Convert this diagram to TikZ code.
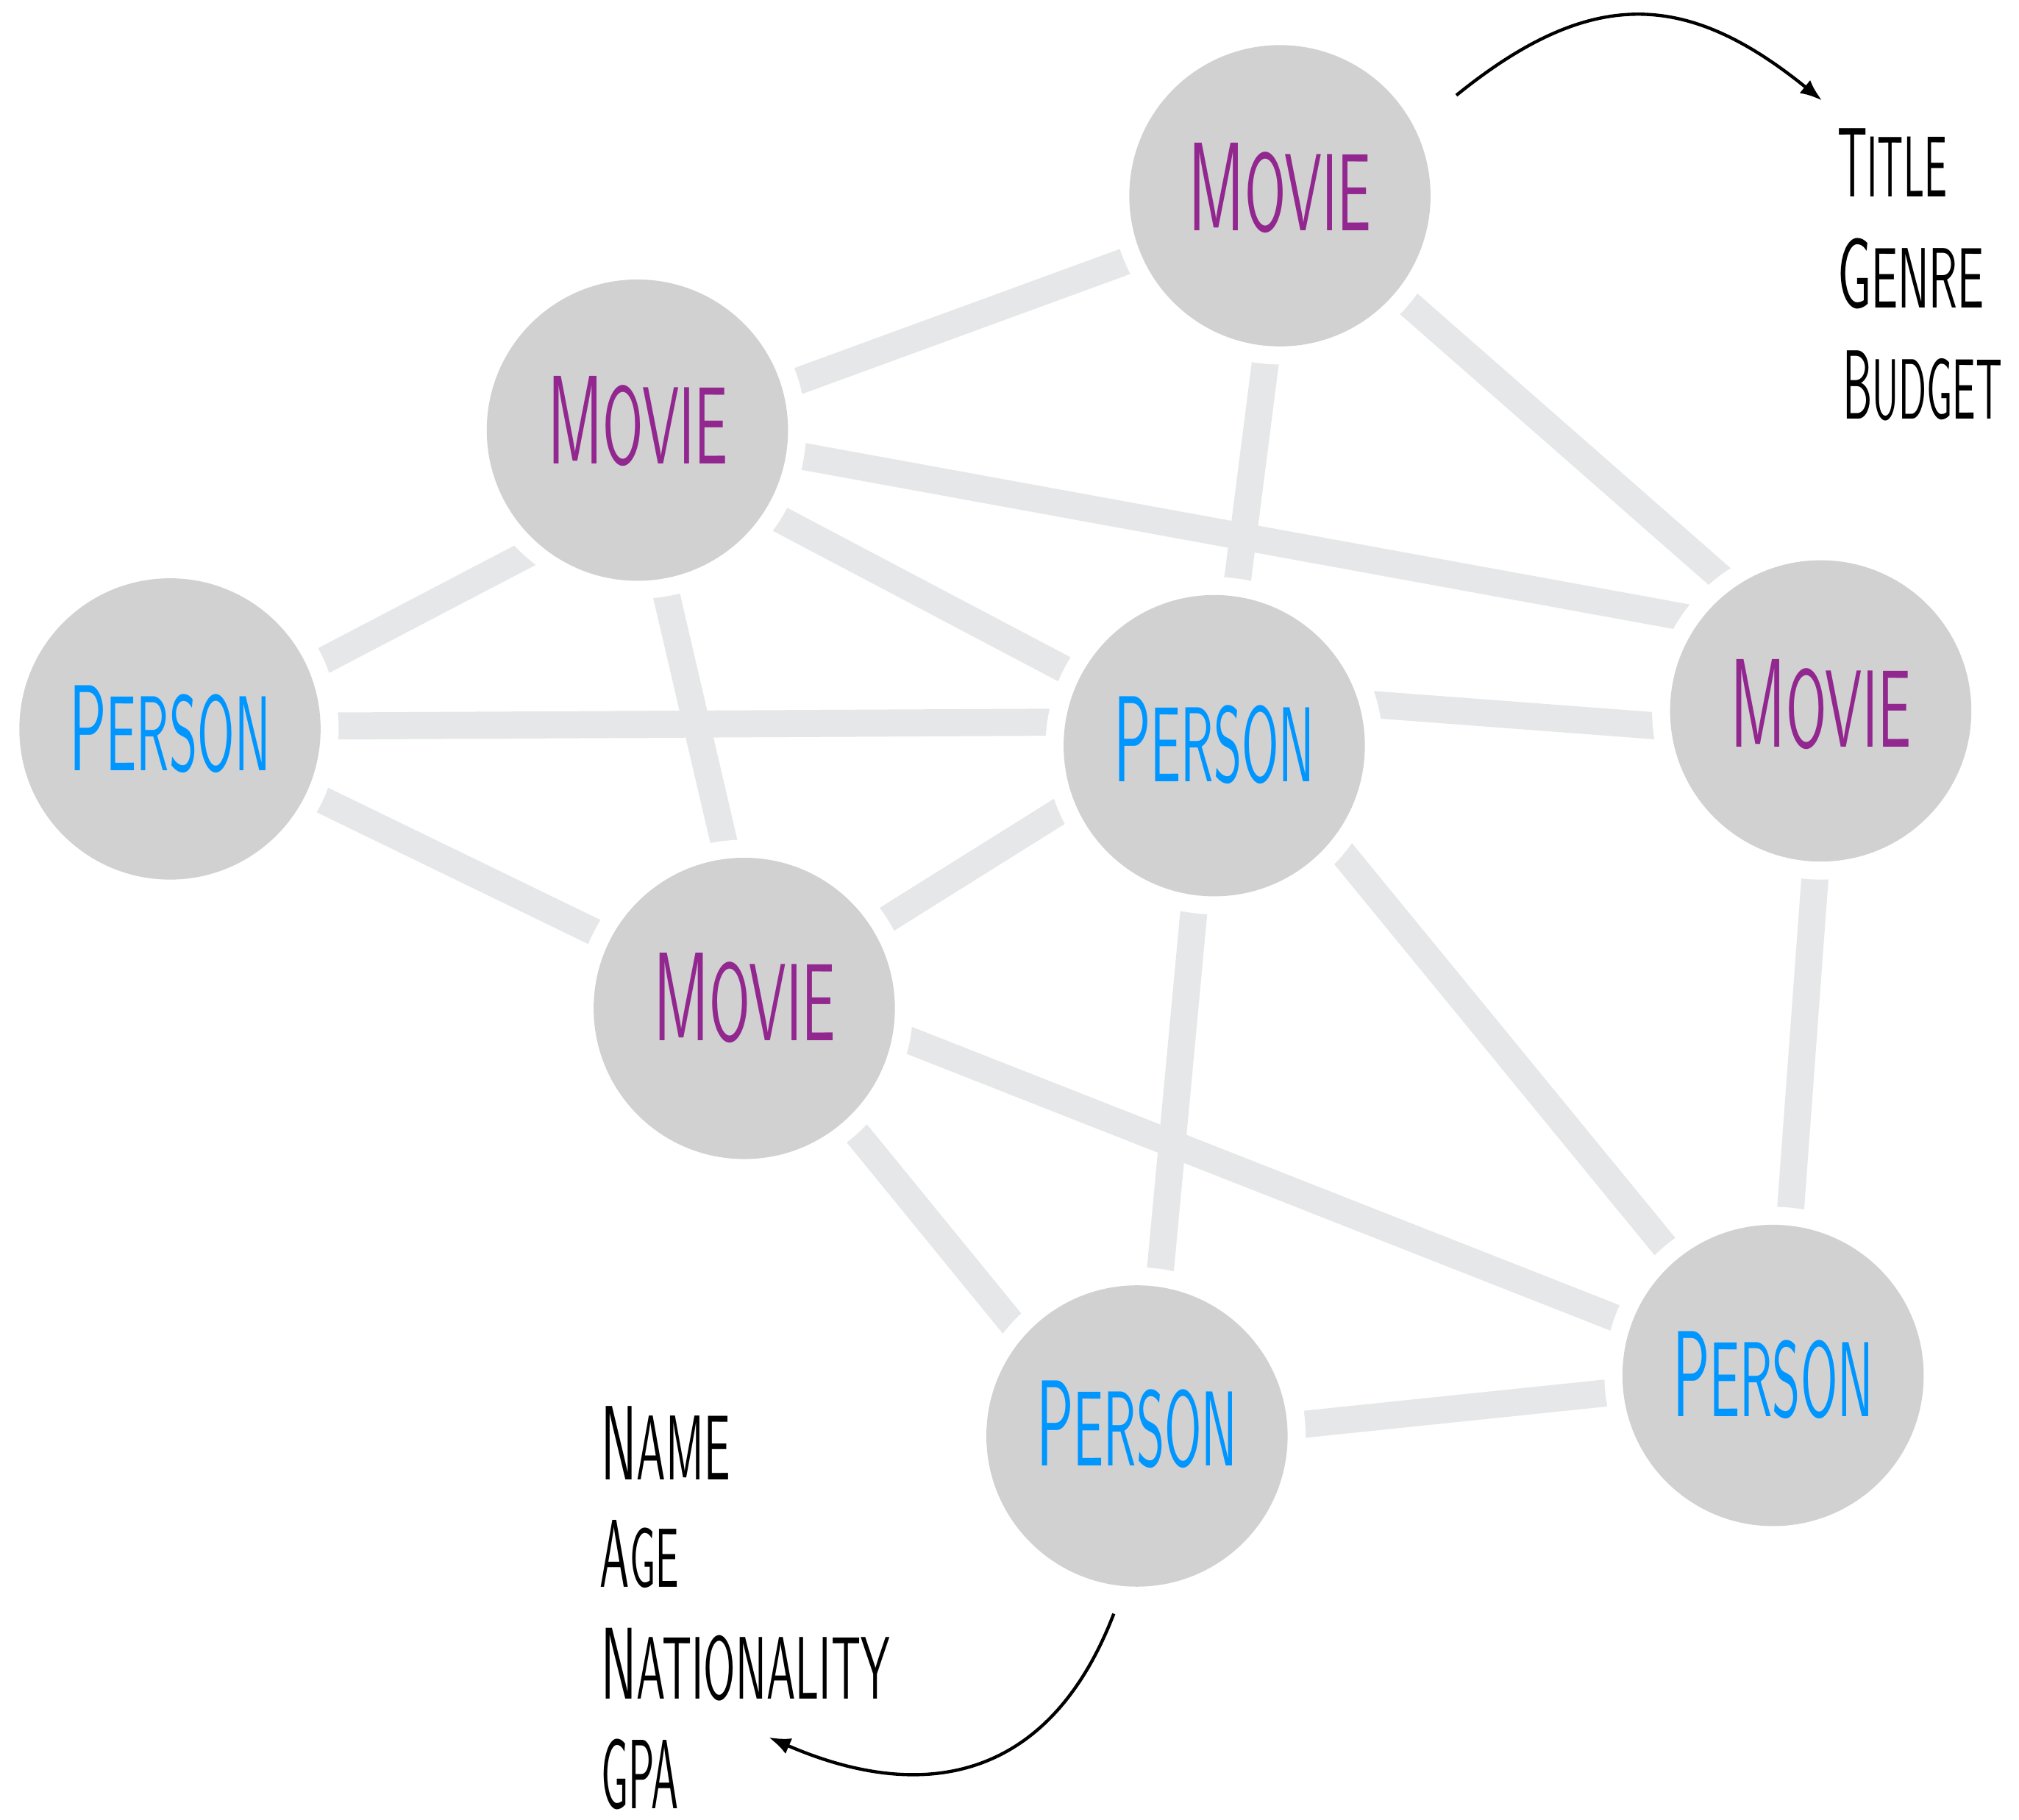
\documentclass[tikz,border=0pt]{standalone}
\usepackage{fontspec}
\usetikzlibrary{arrows.meta,backgrounds}
\definecolor{nodegray}{HTML}{D1D1D1}
\definecolor{edgegray}{HTML}{E6E7E8}
\definecolor{moviecol}{HTML}{92278F}
\definecolor{personcol}{HTML}{0096FF}
\newdimen\ul \ul=0.02cm
\newcommand{\sclbl}[4]{\resizebox{#1\ul}{#2\ul}{\sffamily #3\scalebox{0.87}{#4}}}
\newcommand{\lift}[1]{\rule[-#1\ul]{0pt}{#1\ul}}
\begin{document}
\begin{tikzpicture}[x=0.02cm,y=-0.02cm,
  ent/.style={circle, minimum size=5.24cm, inner sep=0pt, outer sep=0pt, fill=white,
    path picture={\fill[nodegray] (path picture bounding box.center) circle[radius=2.34cm];}},
  movie/.style={ent, text=moviecol},
  person/.style={ent, text=personcol},
  link/.style={draw=edgegray, line width=0.42cm, shorten <=-0.4cm, shorten >=-0.4cm},
  attr/.style={inner sep=0pt, outer sep=0pt, anchor=south west, text=black},
  arr/.style={line width=0.05cm, -{Latex[length=0.34cm,width=0.26cm]}}
]
\useasboundingbox (0,0) rectangle (1568,1413);

\node[movie] (mt) at (994,152) {\sclbl{142}{68}{M}{OVIE}\lift{14}};
\node[movie] (ml) at (495,334) {\sclbl{140}{68}{M}{OVIE}\lift{16}};
\node[movie] (mr) at (1414,552) {\sclbl{140}{68}{M}{OVIE}\lift{12}};
\node[movie] (mm) at (578,783) {\sclbl{141}{68}{M}{OVIE}\lift{18}};
\node[person] (pl) at (132,566) {\sclbl{156}{66}{P}{ERSON}};
\node[person] (pc) at (943,579) {\sclbl{156}{66}{P}{ERSON}\lift{10}};
\node[person] (pb) at (883,1115) {\sclbl{156}{66}{P}{ERSON}\lift{20}};
\node[person] (pr) at (1377,1068) {\sclbl{156}{66}{P}{ERSON}};

\begin{scope}[on background layer]
\fill[white] (0,0) rectangle (1568,1413);
\draw[link] (mt.203.6) -- (ml.17.3);
\draw[link] (mt.265.3) -- (pc.82.6);
\draw[link] (mt.320.6) -- (mr.127);
\draw[link] (ml.-9.2) -- (mr.146.6);
\draw[link] (ml.-32.8) -- (pc.153);
\draw[link] (ml.228.4) -- (pl.24.6);
\draw[link] (ml.-80.5) -- (mm.97.9);
\draw[link] (pl.1.7) -- (pc.172.6);
\draw[link] (pl.-25.8) -- (mm.153);
\draw[link] (pc.14.6) -- (mr.185.2);
\draw[link] (pc.203.6) -- (mm.32.8);
\draw[link] (pc.263.5) -- (pb.82.5);
\draw[link] (pc.320.3) -- (pr.130);
\draw[link] (mr.268.3) -- (pr.84.3);
\draw[link] (mm.-11.7) -- (pr.160.6);
\draw[link] (mm.-48.8) -- (pb.138.5);
\draw[link] (pb.4.3) -- (pr.186.1);
\end{scope}

\node[attr] (title) at (1427,153) {\sclbl{85}{53}{T}{ITLE}};
\node[attr] (genre) at (1427,240) {\sclbl{114}{54}{G}{ENRE}};
\node[attr] (budget) at (1431,327) {\sclbl{124}{53}{B}{UDGET}};
\node[attr] (name) at (467,1149) {\sclbl{100}{57}{N}{AME}};
\node[attr] (age) at (466,1233) {\sclbl{61}{52}{A}{GE}};
\node[attr] (nat) at (467,1321) {\sclbl{224}{55}{N}{ATIONALITY}};
\node[attr] (gpa) at (467,1405) {\sclbl{60}{54}{GPA}{}};

\coordinate (a1s) at (1131,74);
\coordinate (a1e) at (1415,78);
\draw[arr] (a1s) .. controls (1236,-11) and (1310,-7) .. (a1e);
\coordinate (a2s) at (865,1253);
\coordinate (a2e) at (597,1349);
\draw[arr] (a2s) .. controls (815,1383) and (717,1401) .. (a2e);
\end{tikzpicture}
\end{document}
